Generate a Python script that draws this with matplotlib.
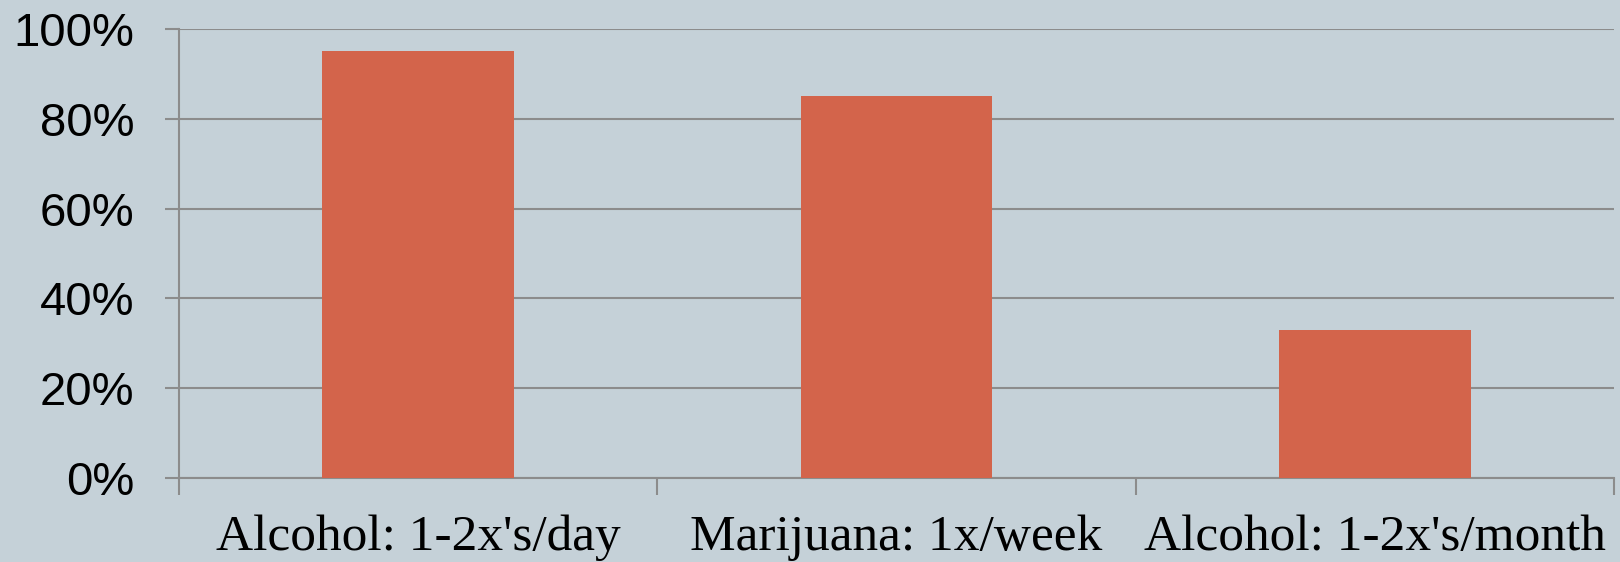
import matplotlib.pyplot as plt
import numpy as np

# Data
categories = ["Alcohol: 1-2x's/day", "Marijuana: 1x/week", "Alcohol: 1-2x's/month"]
values = [95, 85, 33]
y_ticks = [0, 20, 40, 60, 80, 100]

bg = '#C5D1D8'
bar_color = '#D3644B'
grid_color = '#8C8C8C'

fig = plt.figure(figsize=(16.2, 5.62), dpi=100, facecolor=bg)
ax = fig.add_axes([179 / 1620, 1 - 478 / 562, (1614 - 179) / 1620, (478 - 29) / 562])
ax.set_facecolor(bg)

x = np.arange(len(categories))
ax.bar(x, values, width=0.4, color=bar_color, zorder=3)

ax.set_xlim(-0.5, len(categories) - 0.5)
ax.set_ylim(0, 100)

# Horizontal grid
ax.set_yticks(y_ticks)
ax.set_yticklabels([f"{v}%" for v in y_ticks], fontfamily='Liberation Sans', fontsize=34)
ax.grid(axis='y', color=grid_color, linewidth=1.5, zorder=1)
ax.tick_params(axis='y', length=10, width=1.5, color=grid_color, pad=22)

# Category labels between boundary ticks
ax.set_xticks(x)
ax.set_xticklabels(categories, fontfamily='Liberation Serif', fontsize=37)
ax.set_xticks(np.arange(-0.5, len(categories)), minor=True)
ax.tick_params(axis='x', which='major', length=0, pad=26)
ax.tick_params(axis='x', which='minor', length=12, width=1.5, color=grid_color)

for s in ['top', 'right']:
    ax.spines[s].set_visible(False)
for s in ['left', 'bottom']:
    ax.spines[s].set_color(grid_color)
    ax.spines[s].set_linewidth(1.5)

plt.savefig('out.png', dpi=100, facecolor=bg)
